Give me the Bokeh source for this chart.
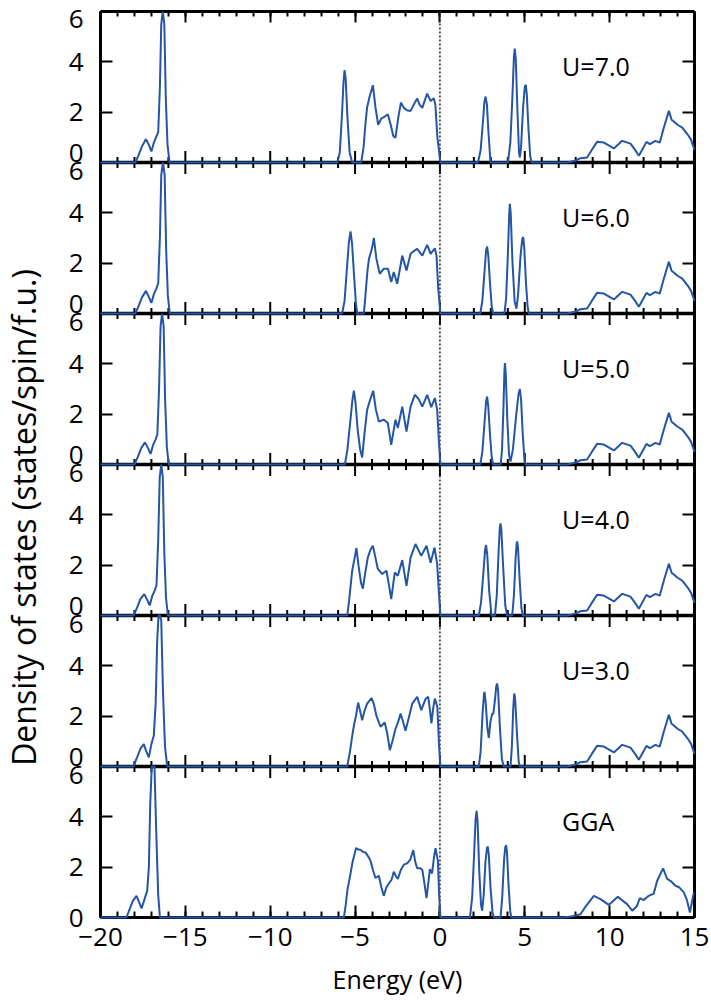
import math
import numpy as np
from bokeh.plotting import figure
from bokeh.models import (Range1d, FixedTicker, LinearAxis, Label, Span,
                          CustomJSTickFormatter)
from bokeh.layouts import row, column
from bokeh.embed import file_html
from bokeh.resources import INLINE

FONT = "Open Sans"
BLUE = "#2456a5"

panel_names = ["U=7.0", "U=6.0", "U=5.0", "U=4.0", "U=3.0", "GGA"]
x_ticks = [-20, -15, -10, -5, 0, 5, 10, 15]
x_minor = list(range(-20, 16))
y_ticks = [0, 2, 4, 6]

# shared high-energy conduction band tail (U panels)
energy_cb_u = [7.5, 8.0, 8.28, 8.67, 8.95, 9.26, 9.66, 10.25, 10.74, 11.23, 11.5, 11.72, 11.95, 12.17,
               12.37, 12.7, 12.95, 13.2, 13.49, 13.65, 13.78, 14.0, 14.28, 14.61, 14.8, 15.0]
dos_cb_u = [0.0, 0.08, 0.17, 0.2, 0.5, 0.82, 0.79, 0.56, 0.86, 0.75, 0.5, 0.27, 0.55, 0.82,
            0.73, 0.86, 0.79, 1.4, 2.05, 1.7, 1.63, 1.5, 1.39, 1.1, 0.9, 0.5]

# U = 7.0
energy_u70 = [-20, -17.95, -17.75, -17.55, -17.32, -17.15, -17.0, -16.85, -16.7, -16.6, -16.5, -16.42, -16.33,
              -16.24, -16.15, -16.05, -15.93,
              -6.05, -5.9, -5.78, -5.68, -5.62, -5.55, -5.45, -5.32, -5.17,
              -4.64, -4.5, -4.38, -4.29, -4.15, -3.95, -3.8, -3.64, -3.45, -3.3, -3.07, -2.9, -2.75, -2.62,
              -2.45, -2.3, -2.13, -1.95, -1.73, -1.5, -1.34, -1.2, -1.04, -0.9, -0.75, -0.55, -0.36, -0.27,
              -0.15, 0.03,
              2.24, 2.4, 2.52, 2.62, 2.69, 2.77, 2.86, 2.98,
              4.01, 4.15, 4.27, 4.36, 4.41, 4.47, 4.57, 4.66, 4.71, 4.78, 4.9, 5.0, 5.06, 5.12, 5.22, 5.32, 5.4]
dos_u70 = [0, 0, 0.3, 0.65, 0.93, 0.7, 0.44, 0.8, 1.05, 1.2, 3.0, 5.5, 7.0,
           5.5, 2.5, 0.7, 0,
           0, 0.4, 1.8, 3.2, 3.67, 3.3, 1.8, 0.4, 0,
           0, 0.6, 1.6, 2.19, 2.6, 3.07, 2.2, 1.5, 1.75, 1.8, 1.92, 1.5, 1.05, 0.99,
           1.8, 2.38, 2.17, 2.08, 2.05, 2.35, 2.54, 2.3, 2.17, 2.45, 2.74, 2.44, 2.55, 2.3,
           1.0, 0,
           0, 0.5, 1.5, 2.4, 2.62, 2.3, 1.2, 0,
           0, 0.8, 2.6, 4.2, 4.53, 4.1, 2.0, 0.4, 0.2, 0.6, 2.2, 3.0, 3.09, 2.7, 1.3, 0.25, 0]

# U = 6.0
energy_u60 = [-20, -17.95, -17.75, -17.55, -17.32, -17.15, -17.0, -16.85, -16.7, -16.6, -16.5, -16.42, -16.32,
              -16.22, -16.13, -16.03, -15.92,
              -5.76, -5.62, -5.5, -5.37, -5.27, -5.18, -5.05, -4.95, -4.87,
              -4.48, -4.38, -4.27, -4.18, -4.0, -3.89, -3.75, -3.55, -3.3, -3.06, -2.87, -2.72, -2.52,
              -2.35, -2.22, -1.97, -1.73, -1.5, -1.34, -1.04, -0.75, -0.55, -0.3, -0.2, -0.1, 0.03,
              2.38, 2.5, 2.62, 2.72, 2.78, 2.85, 2.95, 3.05, 3.13,
              3.8, 3.9, 4.0, 4.08, 4.12, 4.17, 4.27, 4.4, 4.51, 4.6, 4.75, 4.85, 4.91, 4.97, 5.07, 5.17, 5.24]
dos_u60 = [0, 0, 0.3, 0.65, 0.9, 0.65, 0.42, 0.78, 1.0, 1.2, 3.0, 5.5, 7.0,
           5.5, 2.5, 0.7, 0,
           0, 0.5, 1.6, 2.8, 3.26, 2.8, 1.4, 0.4, 0,
           0, 0.8, 1.7, 2.17, 2.6, 3.0, 2.2, 1.58, 1.78, 1.78, 1.25, 1.65, 1.18,
           1.8, 2.3, 1.71, 2.37, 2.5, 2.57, 2.3, 2.73, 2.37, 2.59, 2.3, 1.0, 0,
           0, 0.5, 1.6, 2.5, 2.66, 2.3, 1.2, 0.3, 0,
           0, 0.6, 2.3, 3.9, 4.36, 4.0, 2.1, 0.5, 0.19, 0.7, 2.3, 2.95, 3.04, 2.6, 1.2, 0.25, 0]

# U = 5.0
energy_u50 = [-20, -18.0, -17.8, -17.6, -17.38, -17.2, -17.05, -16.9, -16.75, -16.65, -16.55, -16.46, -16.37,
              -16.28, -16.19, -16.09, -15.98,
              -5.6, -5.45, -5.3, -5.15, -5.07, -4.98, -4.85, -4.7, -4.58, -4.45, -4.29, -4.1, -3.93, -3.78,
              -3.6, -3.3, -3.07, -2.87, -2.62, -2.48, -2.22, -1.97, -1.73, -1.48, -1.25, -1.04, -0.75, -0.51,
              -0.3, -0.16, -0.05, 0.03,
              2.38, 2.5, 2.62, 2.72, 2.78, 2.85, 2.95, 3.05, 3.13,
              3.58, 3.66, 3.74, 3.8, 3.83, 3.88, 3.97, 4.07, 4.16, 4.3, 4.5, 4.63, 4.71, 4.78, 4.88, 4.98, 5.05]
dos_u50 = [0, 0, 0.3, 0.65, 0.88, 0.65, 0.42, 0.78, 1.0, 1.2, 3.0, 5.5, 7.0,
           5.5, 2.5, 0.7, 0,
           0, 0.6, 1.6, 2.6, 2.93, 2.5, 1.4, 0.6, 0.28, 1.2, 2.17, 2.6, 2.93, 2.2,
           1.71, 1.78, 1.65, 0.78, 1.78, 1.45, 2.3, 1.31, 2.3, 2.77, 2.6, 2.3, 2.77, 2.28,
           2.64, 2.17, 0.8, 0,
           0, 0.5, 1.6, 2.5, 2.7, 2.3, 1.2, 0.3, 0,
           0, 0.6, 2.2, 3.7, 4.03, 3.6, 1.8, 0.4, 0.12, 0.6, 2.0, 2.8, 3.0, 2.6, 1.2, 0.2, 0]

# U = 4.0
energy_u40 = [-20, -18.05, -17.85, -17.65, -17.42, -17.25, -17.1, -16.95, -16.8, -16.7, -16.6, -16.51, -16.42,
              -16.33, -16.24, -16.14, -16.03,
              -5.46, -5.35, -5.17, -5.05, -4.92, -4.8, -4.65, -4.54, -4.4, -4.25, -4.1, -3.95, -3.8, -3.66,
              -3.4, -3.15, -3.0, -2.87, -2.66, -2.48, -2.22, -1.97, -1.73, -1.44, -1.1, -0.79, -0.55, -0.32,
              -0.16, -0.05, 0.03,
              2.29, 2.42, 2.55, 2.66, 2.72, 2.79, 2.9, 3.04,
              3.24, 3.35, 3.46, 3.53, 3.57, 3.62, 3.72, 3.85, 3.96,
              4.26, 4.36, 4.46, 4.52, 4.55, 4.6, 4.7, 4.8, 4.89]
dos_u40 = [0, 0, 0.3, 0.65, 0.85, 0.62, 0.4, 0.78, 1.0, 1.2, 3.0, 5.5, 7.0,
           5.5, 2.5, 0.7, 0,
           0, 0.6, 1.78, 2.2, 2.68, 2.0, 1.3, 1.07, 1.7, 2.3, 2.6, 2.77, 2.3, 1.85,
           1.65, 1.78, 1.2, 0.65, 1.71, 1.58, 2.2, 1.18, 2.3, 2.84, 2.37, 2.77, 2.1, 2.7,
           2.04, 0.8, 0,
           0, 0.5, 1.6, 2.6, 2.8, 2.4, 1.0, 0,
           0, 0.8, 2.6, 3.5, 3.66, 3.4, 2.0, 0.4, 0,
           0, 0.8, 2.3, 2.85, 2.94, 2.7, 1.4, 0.3, 0]

# U = 3.0
energy_u30 = [-20, -18.07, -17.85, -17.65, -17.45, -17.3, -17.15, -17.0, -16.86, -16.75, -16.66, -16.58, -16.5,
              -16.42, -16.32, -16.2, -16.07,
              -5.46, -5.3, -5.15, -5.07, -4.95, -4.82, -4.7, -4.58, -4.45, -4.29, -4.03, -3.9, -3.74, -3.5,
              -3.25, -3.1, -2.95, -2.8, -2.62, -2.45, -2.32, -2.18, -2.03, -1.85, -1.63, -1.34, -1.1, -0.85,
              -0.69, -0.58, -0.5, -0.4, -0.3, -0.15, -0.05, 0.03,
              2.29, 2.4, 2.52, 2.6, 2.63, 2.7, 2.8, 2.88, 2.98, 3.08, 3.15, 3.25, 3.32, 3.37, 3.43, 3.53, 3.65, 3.76,
              4.16, 4.24, 4.32, 4.37, 4.39, 4.44, 4.54, 4.64, 4.71]
dos_u30 = [0, 0, 0.35, 0.7, 0.89, 0.6, 0.36, 0.9, 1.22, 2.5, 5.0, 6.8, 7.2,
           5.8, 3.0, 0.8, 0,
           0, 0.6, 1.3, 1.62, 2.0, 2.54, 2.2, 1.84, 2.2, 2.5, 2.72, 2.5, 2.01, 1.58,
           1.75, 1.3, 0.65, 1.0, 1.49, 1.8, 2.1, 1.8, 1.42, 1.9, 2.5, 2.77, 2.24, 2.68,
           2.77, 2.2, 1.71, 2.3, 2.7, 2.37, 0.8, 0,
           0, 0.6, 2.2, 2.9, 2.97, 2.5, 1.5, 1.14, 1.8, 2.1, 2.1, 2.7, 3.2, 3.3, 3.0, 1.6, 0.3, 0,
           0, 0.8, 2.3, 2.85, 2.9, 2.6, 1.3, 0.2, 0]

# GGA
energy_gga = [-20, -18.47, -18.3, -18.1, -17.88, -17.72, -17.58, -17.42, -17.25, -17.15, -17.07, -16.98, -16.9,
              -16.82, -16.72, -16.6, -16.5,
              -5.66, -5.55, -5.45, -5.31, -5.15, -4.94, -4.8, -4.67, -4.52, -4.38, -4.2, -4.09, -3.95, -3.8,
              -3.6, -3.45, -3.31, -3.15, -3.01, -2.85, -2.72, -2.6, -2.48, -2.3, -2.13, -1.93, -1.75, -1.57,
              -1.45, -1.34, -1.15, -1.04, -0.9, -0.79, -0.68, -0.59, -0.46, -0.35, -0.26, -0.12, -0.04, 0.03,
              1.77, 1.9, 2.02, 2.1, 2.16, 2.22, 2.32, 2.42, 2.49, 2.58, 2.68, 2.77, 2.82, 2.88, 2.98, 3.1, 3.18,
              3.57, 3.67, 3.78, 3.85, 3.9, 3.95, 4.05, 4.15, 4.21,
              7.3, 7.8, 8.28, 8.6, 9.07, 9.46, 9.95, 10.48, 11.03, 11.33, 11.6, 11.78, 12.0, 12.3, 12.6,
              12.8, 13.15, 13.39, 13.6, 13.88, 14.1, 14.37, 14.55, 14.73, 14.96]
dos_gga = [0, 0, 0.3, 0.65, 0.86, 0.6, 0.36, 0.7, 1.06, 2.0, 4.5, 6.8, 7.3,
           6.5, 3.5, 0.9, 0,
           0, 0.5, 1.1, 1.59, 2.2, 2.76, 2.7, 2.68, 2.6, 2.58, 2.4, 2.25, 1.9, 1.57,
           1.66, 1.2, 0.86, 1.2, 1.35, 1.5, 1.82, 1.65, 1.53, 1.9, 2.1, 2.15, 2.3, 2.68,
           2.2, 1.96, 1.96, 1.9, 1.3, 0.77, 1.4, 1.92, 1.75, 2.4, 2.75, 2.25, 0.8, 0,
           0, 0.8, 2.6, 3.9, 4.24, 3.8, 1.8, 0.5, 0.27, 0.9, 2.2, 2.75, 2.82, 2.5, 1.2, 0.2, 0,
           0, 0.8, 2.3, 2.8, 2.88, 2.6, 1.2, 0.2, 0,
           0, 0.05, 0.13, 0.45, 0.86, 0.73, 0.5, 0.82, 0.53, 0.27, 0.45, 0.77, 0.69, 0.86, 0.95,
           1.46, 1.95, 1.53, 1.45, 1.26, 1.2, 1.0, 0.7, 0.2, 1.0]

series = [
    (energy_u70 + energy_cb_u, dos_u70 + dos_cb_u),
    (energy_u60 + energy_cb_u, dos_u60 + dos_cb_u),
    (energy_u50 + energy_cb_u, dos_u50 + dos_cb_u),
    (energy_u40 + energy_cb_u, dos_u40 + dos_cb_u),
    (energy_u30 + energy_cb_u, dos_u30 + dos_cb_u),
    (energy_gga, dos_gga),
]

N = len(series)
Y_MAX = 6
FRAME_W = 594
FRAME_H = 906            # six stacked panels of 151 px
YLAB_W = 44
FS_TICK = "26px"
FS_TEXT = "25px"
FS_YLAB = "32px"

p = figure(frame_width=FRAME_W, frame_height=FRAME_H,
           x_range=Range1d(-20, 15), y_range=Range1d(0, N * Y_MAX),
           output_backend="svg", toolbar_location=None,
           x_axis_location=None, y_axis_location=None,
           min_border_left=100 - YLAB_W, min_border_right=16,
           min_border_top=11, min_border_bottom=80,
           outline_line_color=None, background_fill_color="white",
           border_fill_color="white")
p.grid.visible = False


def style_axis(ax, tick_in=12, minor_in=6):
    ax.axis_line_width = 3
    ax.axis_line_color = "black"
    ax.major_tick_in = tick_in
    ax.major_tick_out = 0
    ax.minor_tick_in = minor_in
    ax.minor_tick_out = 0
    ax.major_tick_line_width = 2
    ax.minor_tick_line_width = 2
    ax.major_tick_line_color = "black"
    ax.minor_tick_line_color = "black"
    ax.major_label_text_font = FONT
    ax.major_label_text_color = "black"
    ax.major_label_text_font_size = FS_TICK


def hide_labels(ax, ticks):
    ax.major_label_overrides = {t: "" for t in ticks}
    ax.major_label_text_font_size = "0px"
    ax.major_label_standoff = 0


# panel bases (top panel first)
bases = [Y_MAX * (N - 1 - k) for k in range(N)]

# y tick marks at 2 and 4 of every panel (0 and 6 fall on the panel edges)
inner_marks = sorted(b + v for b in bases for v in y_ticks if 0 < v < Y_MAX)

# y tick labels: 0 / 6 labels at a shared panel edge sit just inside their own panel
label_pos = []
for k, b in enumerate(bases):
    for v in y_ticks:
        pos = b + v
        if v == 0 and k != N - 1:
            pos += 0.38
        if v == Y_MAX:
            pos -= 0.28 if k == 0 else 0.34
        label_pos.append(round(pos, 3))
label_pos.sort()

left = LinearAxis(ticker=FixedTicker(ticks=label_pos, minor_ticks=inner_marks))
style_axis(left, tick_in=0, minor_in=12)
left.major_label_standoff = 17
left.formatter = CustomJSTickFormatter(code="""
    const r = tick - 6 * Math.floor(tick / 6 + 1e-9);
    if (r < 1) { return "0"; }
    if (r > 5) { return "6"; }
    return String(Math.round(r));
""")
p.add_layout(left, "left")

right = LinearAxis(ticker=FixedTicker(ticks=inner_marks, minor_ticks=[]))
style_axis(right)
hide_labels(right, inner_marks)
p.add_layout(right, "right")

top = LinearAxis(ticker=FixedTicker(ticks=x_ticks, minor_ticks=x_minor))
style_axis(top, tick_in=11, minor_in=5)
hide_labels(top, x_ticks)
p.add_layout(top, "above")

bottom = LinearAxis(ticker=FixedTicker(ticks=x_ticks, minor_ticks=x_minor))
style_axis(bottom)
bottom.major_label_standoff = 10
bottom.major_label_overrides = {-20: "\u221220", -15: "\u221215", -10: "\u221210", -5: "\u22125"}
bottom.axis_label = "Energy (eV)"
bottom.axis_label_text_font = FONT
bottom.axis_label_text_font_size = FS_TEXT
bottom.axis_label_text_font_style = "normal"
bottom.axis_label_text_color = "black"
bottom.axis_label_standoff = 13
p.add_layout(bottom, "below")

# Fermi level
p.add_layout(Span(location=0, dimension="height", line_color="#222222",
                  line_dash="2 2", line_width=1.5))

# curves, each panel clipped at its own top edge
for (xs, ys), b in zip(series, bases):
    yv = np.minimum(np.asarray(ys, dtype=float), Y_MAX) + b
    p.line(xs, yv, line_color=BLUE, line_width=2, level="overlay")

# shared panel edges and their tick marks (bottom ticks of the upper panel,
# top ticks of the lower panel)
edges = bases[:-1]
for e in edges:
    p.add_layout(Span(location=e, dimension="width", line_color="black", line_width=3.5))
p.scatter([x for e in edges for x in x_ticks], [e for e in edges for x in x_ticks],
          marker="dash", angle=math.pi / 2, size=23, line_color="black", line_width=2)
minor_only = [m for m in x_minor if m not in x_ticks]
p.scatter([x for e in edges for x in minor_only], [e for e in edges for x in minor_only],
          marker="dash", angle=math.pi / 2, size=11, line_color="black", line_width=2)

for name, b in zip(panel_names, bases):
    p.add_layout(Label(x=7.2, y=b + 3.85, text=name, text_align="left",
                       text_baseline="middle", text_font=FONT,
                       text_font_size=FS_TEXT, text_color="black"))

# narrow strip on the left carrying the shared y-axis title, centred where the
# original places it (a little below the middle of the panel stack)
YLAB_H = 990
ylab = figure(width=YLAB_W, height=YLAB_H, x_range=Range1d(0, 1), y_range=Range1d(0, 1),
              output_backend="svg", toolbar_location=None,
              x_axis_location=None, y_axis_location=None,
              min_border_left=YLAB_W - 2, min_border_right=0,
              min_border_top=2 * 517 - YLAB_H, min_border_bottom=0,
              outline_line_color=None)
ylab.grid.visible = False
yax = LinearAxis(ticker=FixedTicker(ticks=[], minor_ticks=[]))
yax.axis_line_color = None
yax.major_tick_in = 0
yax.major_tick_out = 0
yax.minor_tick_in = 0
yax.minor_tick_out = 0
yax.axis_label = "Density of states (states/spin/f.u.)"
yax.axis_label_text_font = FONT
yax.axis_label_text_font_size = FS_YLAB
yax.axis_label_text_font_style = "normal"
yax.axis_label_text_color = "black"
yax.axis_label_standoff = 0
ylab.add_layout(yax, "left")

# separate columns so the two figures' borders are not aligned with each other
layout = row(column(ylab), column(p), spacing=0)
open("out.html", "w").write(file_html(layout, INLINE))
